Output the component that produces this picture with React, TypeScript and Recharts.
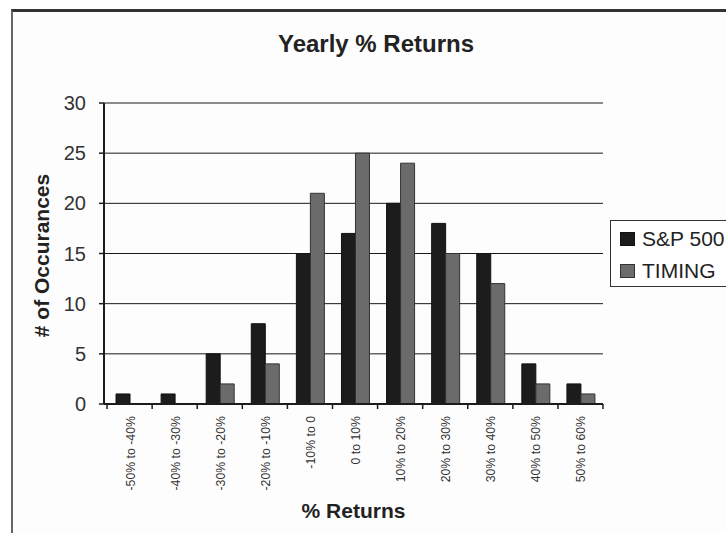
import { BarChart, Bar, XAxis, YAxis, CartesianGrid } from 'recharts';

const categories = [
  '-50% to -40%', '-40% to -30%', '-30% to -20%', '-20% to -10%', '-10% to 0',
  '0 to 10%', '10% to 20%', '20% to 30%', '30% to 40%', '40% to 50%', '50% to 60%',
];
const sp500 = [1, 1, 5, 8, 15, 17, 20, 18, 15, 4, 2];
const timing = [0, 0, 2, 4, 21, 25, 24, 15, 12, 2, 1];
const yTicks = [0, 5, 10, 15, 20, 25, 30];

const data = categories.map((range, i) => ({ range, sp500: sp500[i], timing: timing[i] }));

const FONT = '"Liberation Sans", Arial, Helvetica, sans-serif';
const INK = '#1c1c1c';

const series = [
  { key: 'sp500', name: 'S&P 500', fill: INK, stroke: '#111' },
  { key: 'timing', name: 'TIMING', fill: '#6b6b6b', stroke: '#333' },
];

// rotated category label plus a tick mark on the left edge of each band
function RangeTick({ x, y, payload, index }: any) {
  const half = 22.5;
  return (
    <g>
      <line x1={x - half} y1={y - 8} x2={x - half} y2={y - 3} stroke={INK} strokeWidth={1.5} />
      {index === categories.length - 1 && (
        <line x1={x + half} y1={y - 8} x2={x + half} y2={y - 3} stroke={INK} strokeWidth={1.5} />
      )}
      <text
        transform={`translate(${x + 5},${y + 4}) rotate(-90)`}
        textAnchor="end"
        fontSize={12.3}
        fontFamily={FONT}
        fill="#333"
      >
        {payload.value}
      </text>
    </g>
  );
}

function LegendBox() {
  return (
    <div
      style={{
        position: 'absolute', left: 610, top: 220, width: 140, height: 67,
        border: '1px solid #333', background: '#fff', boxSizing: 'border-box', padding: '6px 0 0 9px',
      }}
    >
      {series.map((s) => (
        <div key={s.key} style={{ display: 'flex', alignItems: 'center', height: 24, marginBottom: 8 }}>
          <span style={{ width: 15, height: 14, background: s.fill, border: `1px solid ${s.stroke}`, boxSizing: 'border-box', marginRight: 7 }} />
          <span style={{ fontFamily: FONT, fontSize: 21, color: '#222', whiteSpace: 'nowrap' }}>{s.name}</span>
        </div>
      ))}
    </div>
  );
}

export default function App() {
  return (
    <div style={{ position: 'absolute', left: 0, top: 0, width: 726, height: 533, background: '#fff', overflow: 'hidden' }}>
      <div
        style={{
          position: 'absolute', left: 11, top: 9, width: 740, height: 540,
          borderTop: '3px solid #333', borderLeft: '2px solid #666', background: '#fdfdfd',
        }}
      />
      <div
        style={{
          position: 'absolute', left: 226, top: 33, width: 300, textAlign: 'center',
          fontFamily: FONT, fontWeight: 'bold', fontSize: 24, lineHeight: '22px', color: '#222',
        }}
      >
        Yearly % Returns
      </div>
      <div style={{ position: 'absolute', left: 0, top: 0 }}>
        <BarChart
          width={726}
          height={533}
          data={data}
          margin={{ top: 103, right: 123, bottom: 29, left: 24 }}
          barCategoryGap="20%"
          barGap={0}
        >
          <CartesianGrid vertical={false} stroke="#1a1a1a" strokeWidth={1} />
          <XAxis
            dataKey="range"
            interval={0}
            height={100}
            padding={{ left: 3, right: 0 }}
            tickLine={false}
            axisLine={{ stroke: INK, strokeWidth: 2 }}
            tick={<RangeTick />}
            label={{
              content: ({ viewBox }: any) => (
                <text
                  x={viewBox.x + viewBox.width / 2}
                  y={518}
                  textAnchor="middle"
                  fontFamily={FONT}
                  fontWeight="bold"
                  fontSize={21}
                  fill="#222"
                >
                  % Returns
                </text>
              ),
            }}
          />
          <YAxis
            width={80}
            domain={[0, 30]}
            ticks={yTicks}
            interval={0}
            tickSize={5}
            tickMargin={13}
            tickLine={{ stroke: INK, strokeWidth: 1.5 }}
            axisLine={{ stroke: INK, strokeWidth: 2 }}
            tick={{ fontSize: 20, fontFamily: FONT, fill: '#333' }}
            label={{
              content: ({ viewBox }: any) => {
                const cx = 49;
                const cy = viewBox.y + viewBox.height / 2 + 2;
                return (
                  <text
                    transform={`translate(${cx},${cy}) rotate(-90)`}
                    textAnchor="middle"
                    fontFamily={FONT}
                    fontWeight="bold"
                    fontSize={21}
                    fill="#222"
                  >
                    # of Occurances
                  </text>
                );
              },
            }}
          />
          {series.map((s) => (
            <Bar
              key={s.key}
              dataKey={s.key}
              name={s.name}
              fill={s.fill}
              stroke={s.stroke}
              strokeWidth={1}
              isAnimationActive={false}
            />
          ))}
        </BarChart>
      </div>
      <LegendBox />
    </div>
  );
}
